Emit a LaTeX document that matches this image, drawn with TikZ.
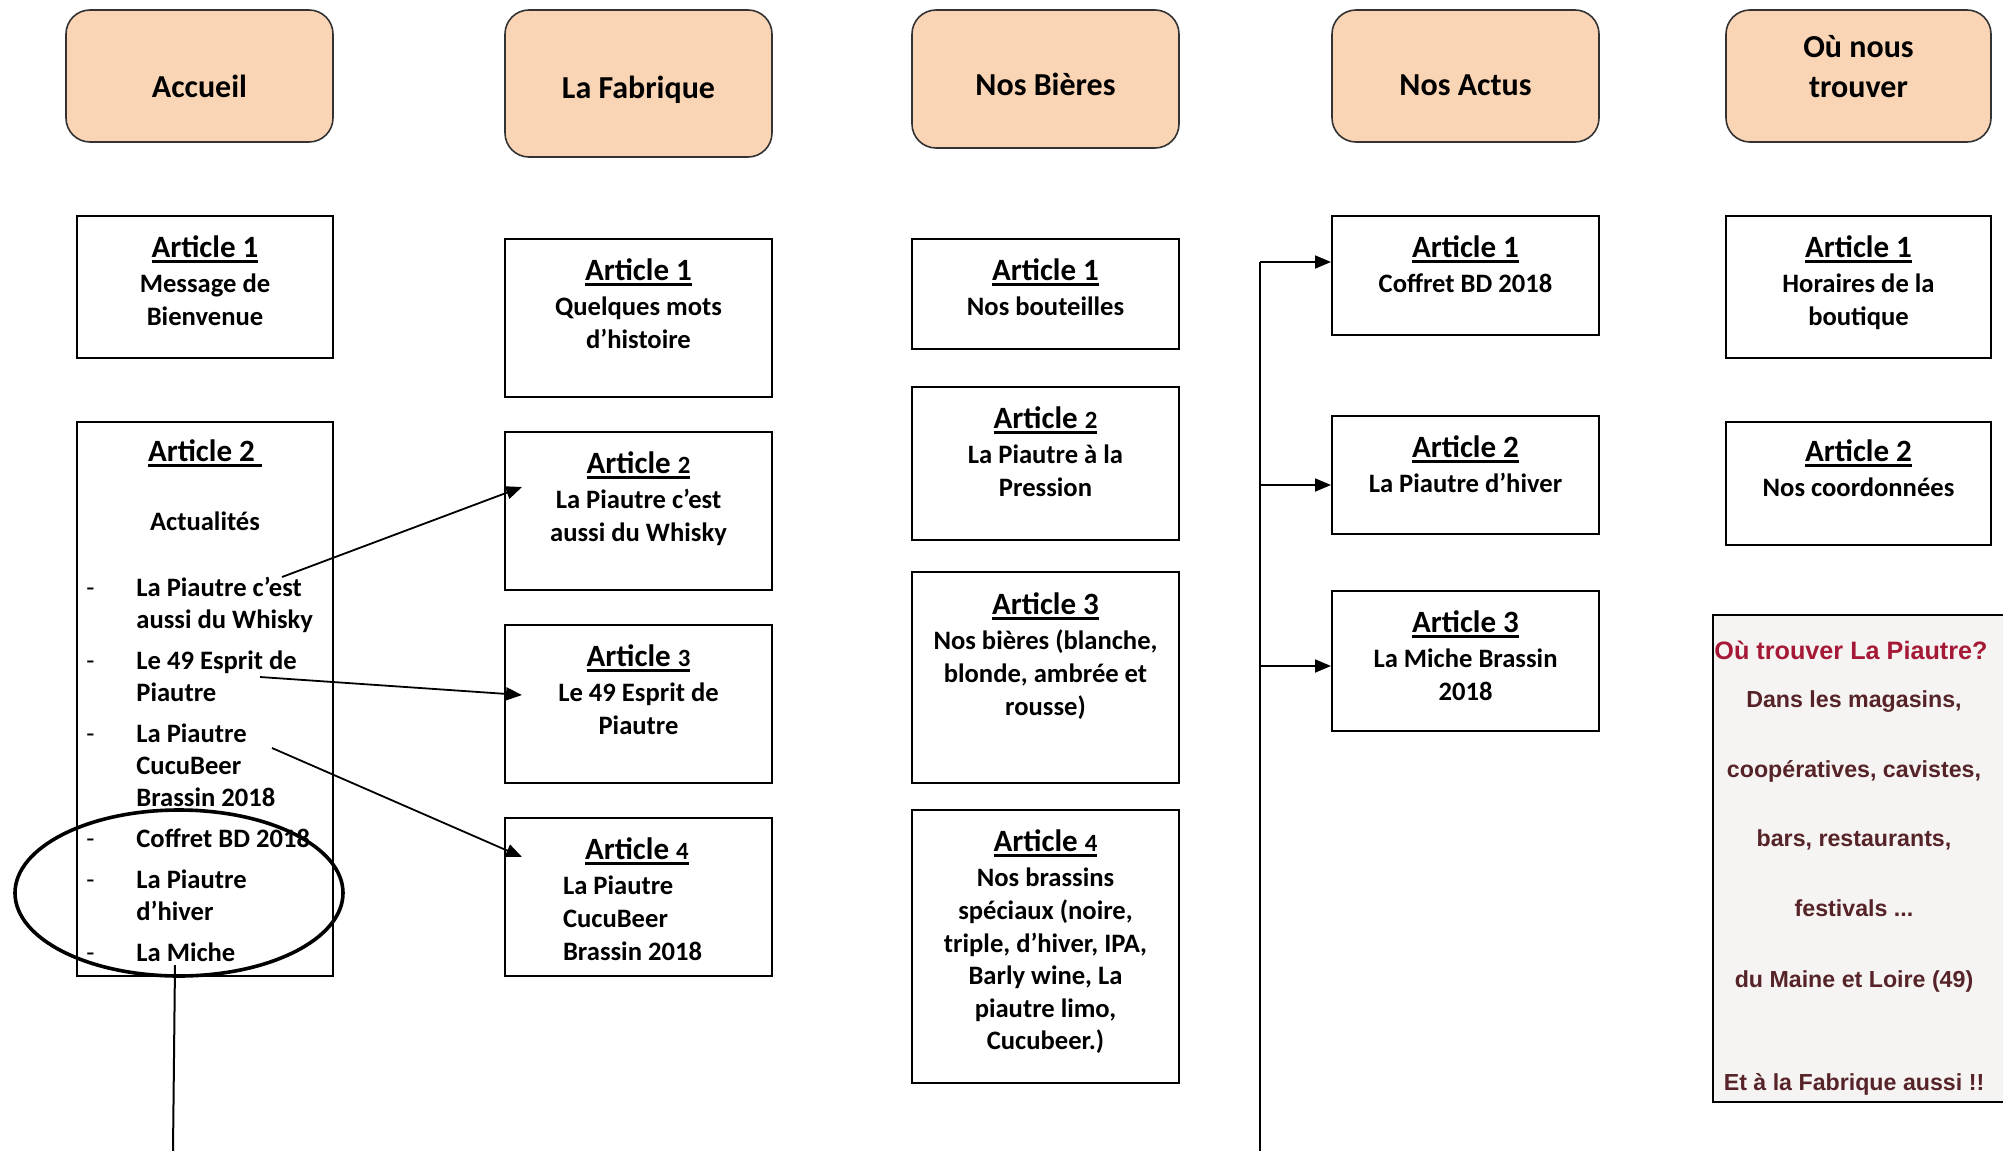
\documentclass[tikz,border=0pt]{standalone}
\usepackage{fontspec}
\setmainfont{Carlito}
\newfontfamily\cartefont{Liberation Sans}
\usepackage{xcolor}
\usepackage{tikz}
\usetikzlibrary{positioning,calc,arrows.meta}

\definecolor{peche}{RGB}{250,213,181}
\definecolor{cartefond}{RGB}{246,244,242}
\definecolor{carterouge}{RGB}{165,25,55}
\definecolor{cartebrun}{RGB}{85,35,40}

\newcommand{\souligne}[1]{\setbox0=\hbox{#1}\rlap{\rule[-3.1pt]{\wd0}{1.7pt}}\box0}
\newcommand{\titre}[1]{{\fontsize{15.5}{18}\selectfont\souligne{#1}}}
\newcommand{\chiffre}[1]{{\fontsize{12.4}{14}\selectfont #1}}
\newcommand{\puce}{\makebox[25pt][l]{\mdseries -}}
\newcommand{\retrait}{\hspace*{25pt}}

\begin{document}
\begin{tikzpicture}[
    x=0.5pt, y=-0.5pt,
    entete/.style = {draw=black!80, line width=0.8pt, rounded corners=12pt, fill=peche,
      minimum width=133.5pt},
    entetetxt/.style = {align=center, inner sep=0pt, font=\fontsize{16}{20}\selectfont\bfseries},
    cadre/.style = {draw, line width=1pt, minimum width=133.5pt},
    texte/.style = {align=center, inner sep=0pt, font=\fontsize{13.3}{16.3}\selectfont\bfseries},
    fleche/.style = {-{Triangle[length=8pt, width=6.5pt]}, line width=0.9pt},
    trait/.style = {line width=1.3pt},
    anneau/.style = {line width=1.8pt},
    carteligne/.style = {anchor=base, inner sep=0pt, text=cartebrun,
      font=\cartefont\fontsize{11.6}{14}\selectfont\bfseries},
  ]

  \useasboundingbox (0,0) rectangle (2003,1151);

  % menu
  \node[entete, minimum height=66pt] (accueil) at (199.5,76) {};
  \node[entetetxt] (accueilt) at (199.5,86) {Accueil};
  \node[entete, minimum height=73.5pt] (fabrique) at (638.5,83.5) {};
  \node[entetetxt] (fabriquet) at (638.5,90) {La Fabrique};
  \node[entete, minimum height=69pt] (bieres) at (1045.5,79) {};
  \node[entetetxt] (bierest) at (1045.5,84) {Nos Bières};
  \node[entete, minimum height=66pt] (actus) at (1465.5,76) {};
  \node[entetetxt] (actust) at (1465.5,85) {Nos Actus};
  \node[entete, minimum height=66pt, minimum width=132.5pt] (trouver) at (1858.5,76) {};
  \node[entetetxt] (trouvert) at (1858.5,67) {Où nous\\trouver};

  % Accueil
  \node[cadre, minimum width=128pt, minimum height=71pt] (acc1) at (205,287) {};
  \node[texte, below=10pt of acc1.north] (acc1t) {\titre{Article 1}\\[1.5pt] Message de\\ Bienvenue};
  \node[cadre, minimum width=128pt, minimum height=277pt] (acc2) at (205,699) {};
  \node[texte, below=9pt of acc2.north] (acc2t) {\titre{Article 2\ }\\[18.5pt] Actualités};
  \node[texte, align=left, font=\fontsize{13.3}{16}\selectfont\bfseries,
    below right=78pt and 5pt of acc2.north west] (acc2l) {%
    \puce La Piautre c’est\\ \retrait aussi du Whisky\\[4.5pt]
    \puce Le 49 Esprit de\\ \retrait Piautre\\[4.5pt]
    \puce La Piautre\\ \retrait CucuBeer\\ \retrait Brassin 2018\\[4.5pt]
    \puce Coffret BD 2018\\[4.5pt]
    \puce La Piautre\\ \retrait d’hiver\\[4.5pt]
    \puce La Miche};

  % La Fabrique
  \node[cadre, minimum height=79pt] (fab1) at (638.5,318) {};
  \node[texte, below=10pt of fab1.north] (fab1t) {\titre{Article 1}\\[1.5pt] Quelques mots\\ d’histoire};
  \node[cadre, minimum height=79pt] (fab2) at (638.5,511) {};
  \node[texte, below=10pt of fab2.north] (fab2t) {\titre{Article \chiffre{2}}\\[1.5pt] La Piautre c’est\\ aussi du Whisky};
  \node[cadre, minimum height=79pt] (fab3) at (638.5,704) {};
  \node[texte, below=10pt of fab3.north] (fab3t) {\titre{Article \chiffre{3}}\\[1.5pt] Le 49 Esprit de\\ Piautre};
  \node[cadre, minimum height=79pt] (fab4) at (638.5,897) {};
  \node[texte, align=left, below=10pt of fab4.north, xshift=-3pt] (fab4t) {\hspace*{11pt}\titre{Article \chiffre{4}}\\[1.5pt] La Piautre\\ CucuBeer\\ Brassin 2018};

  % Nos Bieres
  \node[cadre, minimum height=55pt] (bie1) at (1045.5,294) {};
  \node[texte, below=10pt of bie1.north] (bie1t) {\titre{Article 1}\\[1.5pt] Nos bouteilles};
  \node[cadre, minimum height=76.5pt] (bie2) at (1045.5,463.5) {};
  \node[texte, below=10pt of bie2.north] (bie2t) {\titre{Article \chiffre{2}}\\[1.5pt] La Piautre à la\\ Pression};
  \node[cadre, minimum height=105.5pt] (bie3) at (1045.5,677.5) {};
  \node[texte, below=10.5pt of bie3.north] (bie3t) {\titre{Article 3}\\[1.5pt] Nos bières (blanche,\\ blonde, ambrée et\\ rousse)};
  \node[cadre, minimum height=136.5pt] (bie4) at (1045.5,946.5) {};
  \node[texte, below=10pt of bie4.north] (bie4t) {\titre{Article \chiffre{4}}\\[1.5pt] Nos brassins\\ spéciaux (noire,\\ triple, d’hiver, IPA,\\ Barly wine, La\\ piautre limo,\\ Cucubeer.)};

  % Nos Actus
  \node[cadre, minimum height=59.5pt] (act1) at (1465.5,275.5) {};
  \node[texte, below=10pt of act1.north] (act1t) {\titre{Article 1}\\[1.5pt] Coffret BD 2018};
  \node[cadre, minimum height=59pt] (act2) at (1465.5,475) {};
  \node[texte, below=10pt of act2.north] (act2t) {\titre{Article 2}\\[1.5pt] La Piautre d’hiver};
  \node[cadre, minimum height=70pt] (act3) at (1465.5,661) {};
  \node[texte, below=10pt of act3.north] (act3t) {\titre{Article 3}\\[1.5pt] La Miche Brassin\\ 2018};

  % Ou nous trouver
  \node[cadre, minimum width=132.5pt, minimum height=71pt] (ou1) at (1858.5,287) {};
  \node[texte, below=10pt of ou1.north] (ou1t) {\titre{Article 1}\\[1.5pt] Horaires de la\\ boutique};
  \node[cadre, minimum width=132.5pt, minimum height=61.5pt] (ou2) at (1858.5,483.5) {};
  \node[texte, below=9pt of ou2.north] (ou2t) {\titre{Article 2}\\[1.5pt] Nos coordonnées};

  \node[draw, line width=1pt, fill=cartefond, minimum width=148.5pt, minimum height=243.5pt] (carte) at (1861.5,858.5) {};
  \node[carteligne, text=carterouge, font=\cartefont\fontsize{12.6}{15}\selectfont\bfseries] (ct0) at (1851,659) {Où trouver La Piautre?};
  \node[carteligne] (ct1) at (1854,707) {Dans les magasins,};
  \node[carteligne] (ct2) at (1854,777) {coopératives, cavistes,};
  \node[carteligne] (ct3) at (1854,846) {bars, restaurants,};
  \node[carteligne] (ct4) at (1854,916) {festivals ...};
  \node[carteligne] (ct5) at (1854,987) {du Maine et Loire (49)};
  \node[carteligne] (ct6) at (1854,1090) {Et à la Fabrique aussi !!};

  % liens
  \coordinate (w1) at (282,577);
  \coordinate (w2) at (260,677);
  \coordinate (w3) at (272,748);
  \draw[fleche] (w1) -- ($(fab2.west)+(18,-24)$);
  \draw[fleche] (w2) -- ($(fab3.west)+(18,-9)$);
  \draw[fleche] (w3) -- ($(fab4.west)+(18,-40)$);

  \draw[anneau] (179,893) ellipse [x radius=82pt, y radius=41.5pt];
  \coordinate (mi) at (175,965);
  \coordinate (bas) at (173,1151);
  \draw[line width=1pt] (mi) -- (bas);

  \coordinate (tronc) at (1260,1151);
  \coordinate (b1) at (1260,262);
  \coordinate (b2) at (1260,485);
  \coordinate (b3) at (1260,666);
  \draw[trait] (tronc) -- (b1);
  \draw[fleche] (b1) -- (b1 -| act1.west);
  \draw[fleche] (b2) -- (b2 -| act2.west);
  \draw[fleche] (b3) -- (b3 -| act3.west);

\end{tikzpicture}
\end{document}
